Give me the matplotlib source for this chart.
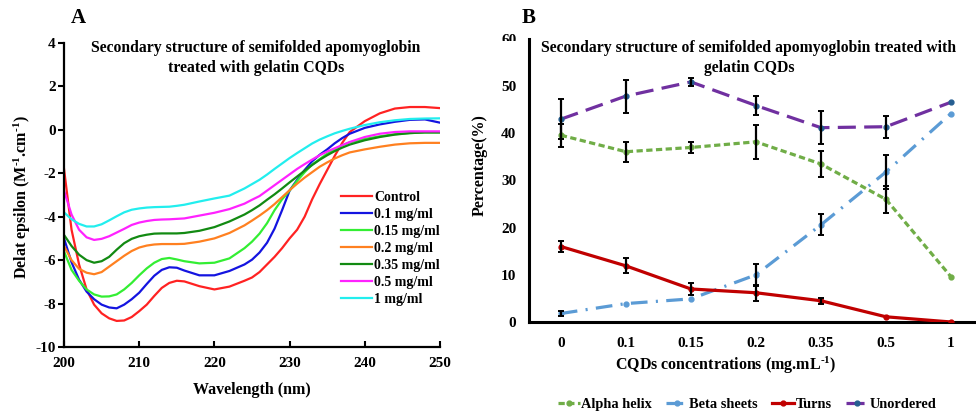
import numpy as np
import matplotlib
matplotlib.use("Agg")
import matplotlib.pyplot as plt
from matplotlib.transforms import Bbox, TransformedBbox

plt.rcParams['font.family'] = ['Liberation Serif', 'DejaVu Serif']
plt.rcParams['font.weight'] = 'bold'
plt.rcParams['axes.unicode_minus'] = False
plt.rcParams['mathtext.fontset'] = 'custom'
plt.rcParams['mathtext.rm'] = 'Liberation Serif:bold'
plt.rcParams['mathtext.default'] = 'rm'
plt.rcParams['lines.scale_dashes'] = False

# ---- panel A: CD spectra ----
wavelength = [200, 201, 202, 203, 204, 205, 206, 207, 208, 209, 210, 211, 212, 213,
              214, 215, 216, 218, 220, 222, 224, 225, 226, 227, 228, 229, 230, 231,
              232, 233, 234, 235, 236, 237, 238, 240, 242, 244, 246, 248, 250]

control = [-1.8, -4.6, -6.2, -7.35, -8.05, -8.45, -8.68, -8.8, -8.78, -8.62, -8.35, -8.05,
           -7.65, -7.28, -7.05, -6.95, -6.98, -7.2, -7.35, -7.22, -6.95, -6.8, -6.55, -6.2,
           -5.85, -5.45, -5.0, -4.6, -4.0, -3.2, -2.5, -1.85, -1.2, -0.6, -0.1, 0.4, 0.76,
           0.98, 1.05, 1.05, 1.0]
c_01 = [-5.0, -6.1, -6.9, -7.45, -7.8, -8.05, -8.18, -8.22, -8.05, -7.8, -7.5, -7.1, -6.72,
        -6.45, -6.33, -6.35, -6.48, -6.7, -6.7, -6.5, -6.2, -5.98, -5.65, -5.2, -4.55, -3.7,
        -2.8, -2.3, -1.85, -1.45, -1.15, -0.9, -0.62, -0.38, -0.18, 0.09, 0.25, 0.37, 0.46,
        0.48, 0.33]
c_015 = [-5.6, -6.45, -6.95, -7.35, -7.58, -7.68, -7.67, -7.58, -7.35, -7.05, -6.7, -6.38,
         -6.12, -5.95, -5.9, -5.97, -6.05, -6.15, -6.12, -5.92, -5.45, -5.15, -4.78, -4.3,
         -3.7, -3.2, -2.8, -2.35, -1.95, -1.6, -1.35, -1.1, -0.9, -0.72, -0.58, -0.42, -0.3,
         -0.2, -0.15, -0.12, -0.12]
c_02 = [-5.35, -6.0, -6.4, -6.58, -6.65, -6.55, -6.3, -6.05, -5.8, -5.58, -5.42, -5.33,
        -5.28, -5.26, -5.26, -5.26, -5.25, -5.15, -5.0, -4.75, -4.4, -4.18, -3.95, -3.7,
        -3.42, -3.1, -2.78, -2.48, -2.2, -1.95, -1.7, -1.5, -1.32, -1.17, -1.04, -0.9,
        -0.78, -0.68, -0.62, -0.6, -0.6]
c_035 = [-4.84, -5.35, -5.75, -6.0, -6.12, -6.05, -5.85, -5.52, -5.22, -5.02, -4.9, -4.83,
         -4.78, -4.77, -4.77, -4.77, -4.75, -4.65, -4.48, -4.22, -3.9, -3.7, -3.48, -3.22,
         -2.97, -2.7, -2.42, -2.15, -1.88, -1.62, -1.38, -1.17, -0.98, -0.82, -0.68, -0.48,
         -0.33, -0.22, -0.15, -0.12, -0.12]
c_05 = [-2.8, -3.9, -4.6, -4.95, -5.07, -5.02, -4.9, -4.73, -4.56, -4.38, -4.27, -4.2,
        -4.15, -4.13, -4.12, -4.1, -4.08, -3.95, -3.82, -3.65, -3.4, -3.22, -3.05, -2.8,
        -2.55, -2.3, -2.05, -1.8, -1.58, -1.37, -1.17, -1.0, -0.85, -0.7, -0.56, -0.33,
        -0.18, -0.1, -0.07, -0.07, -0.07]
c_1 = [-3.8, -4.12, -4.33, -4.45, -4.45, -4.35, -4.17, -3.98, -3.8, -3.68, -3.62, -3.58,
       -3.56, -3.55, -3.54, -3.5, -3.45, -3.3, -3.16, -3.03, -2.7, -2.5, -2.3, -2.06,
       -1.8, -1.55, -1.3, -1.07, -0.85, -0.63, -0.45, -0.3, -0.16, -0.05, 0.05, 0.22,
       0.35, 0.44, 0.5, 0.52, 0.53]

spectra_labels = ['Control', '0.1 mg/ml', '0.15 mg/ml', '0.2 mg/ml', '0.35 mg/ml',
                  '0.5 mg/ml', '1 mg/ml']
spectra_colors = ['#ff2222', '#1414e0', '#33ee33', '#ff8020', '#128a12', '#ff22ff', '#22eeee']

# ---- panel B: secondary structure fractions ----
conc_labels = ['0', '0.1', '0.15', '0.2', '0.35', '0.5', '1']
alpha_helix = [39.6, 36.1, 37.0, 38.2, 33.5, 26.0, 9.6]
beta_sheets = [1.8, 3.9, 4.9, 10.0, 20.6, 31.8, 44.2]
turns = [16.0, 11.9, 7.0, 6.2, 4.5, 1.1, 0.0]
unordered = [43.0, 47.9, 50.9, 45.9, 41.2, 41.4, 46.6]
alpha_err = [2.4, 2.1, 1.1, 3.6, 2.7, 2.8, 0]
beta_err = [0.5, 0, 0, 2.3, 2.2, 3.7, 0]
turns_err = [1.2, 1.6, 1.2, 1.7, 0.6, 0, 0]
unordered_err = [4.2, 3.5, 0.9, 2.1, 3.5, 2.3, 0]

fig = plt.figure(figsize=(9.76, 4.18), dpi=100)

# panel A
axA = fig.add_axes([0.0656, 0.1699, 0.3852, 0.7273])
series = [control, c_01, c_015, c_02, c_035, c_05, c_1]
for vals, lab, col in zip(series, spectra_labels, spectra_colors):
    axA.plot(wavelength, vals, color=col, lw=1.6, label=lab)
axA.set_xlim(200, 250)
axA.set_ylim(-10, 4)
axA.set_xticks(range(200, 251, 10))
axA.set_yticks(range(-10, 5, 2))
for s in ['top', 'right']:
    axA.spines[s].set_visible(False)
for s in ['left', 'bottom']:
    axA.spines[s].set_linewidth(1.6)
axA.tick_params(axis='x', direction='in', length=4, width=1.5, pad=7, labelsize=11)
axA.tick_params(axis='y', direction='out', length=4, width=1.5, pad=2, labelsize=11)
axA.legend(loc='upper left', bbox_to_anchor=(0.737, 0.512), frameon=False, fontsize=10,
           handlelength=2.2, handletextpad=0.18, labelspacing=0.28, borderpad=0,
           borderaxespad=0)
fig.text(22 / 976, 1 - 197 / 418, r'Delat epsilon (M$^{\text{-1}}$.cm$^{\text{-1}}$)',
         rotation=90, ha='center', va='center', fontsize=11.5)
fig.text(252 / 976, 1 - 390 / 418, 'Wavelength (nm)', ha='center', va='center',
         fontsize=11.5)
fig.text(256 / 976, 1 - 58 / 418,
         'Secondary structure of semifolded apomyoglobin\ntreated with gelatin CQDs',
         ha='center', va='center', fontsize=11.3, linespacing=1.3)
fig.text(78 / 976, 1 - 18 / 418, 'A', ha='center', va='center', fontsize=15)

# panel B
axB = fig.add_axes([0.542, 0.2297, 0.457, 0.677])
x = np.arange(len(conc_labels))
styles = [
    (alpha_helix, alpha_err, 'Alpha helix', '#70ad47', '#70ad47', (0, (4.5, 2.5))),
    (beta_sheets, beta_err, 'Beta sheets', '#5b9bd5', '#5b9bd5', (0, (12, 6, 1.5, 6))),
    (turns, turns_err, 'Turns', '#c00000', '#c00000', '-'),
    (unordered, unordered_err, 'Unordered', '#7030a0', '#255e91', (0, (13, 6))),
]
for vals, err, lab, col, mcol, ls in styles:
    axB.plot(x, vals, color=col, lw=2.3, ls=ls, marker='o', ms=3.5,
             mfc=mcol, mec=mcol, label=lab, zorder=3)
    err = np.array(err)
    keep = err > 0
    axB.errorbar(x[keep], np.array(vals)[keep], yerr=err[keep], fmt='none',
                 ecolor='black', elinewidth=1.6, capsize=2, capthick=1.4, zorder=4)
axB.set_xlim(-0.49, 6.37)
axB.set_ylim(0, 60)
axB.set_xticks(x)
axB.set_xticklabels(conc_labels)
axB.set_yticks(range(0, 61, 10))
for s in ['top', 'right']:
    axB.spines[s].set_visible(False)
for s in ['left', 'bottom']:
    axB.spines[s].set_linewidth(2.2)
axB.tick_params(axis='both', length=0, labelsize=11)
axB.tick_params(axis='x', pad=11)
axB.tick_params(axis='y', pad=9)

# the top "60" label sits under the title block, only its upper part shows
top_label = axB.yaxis.get_major_ticks()[-1].label1
top_label.set_clip_box(TransformedBbox(Bbox([[0.5, 1 - 40.5 / 418], [0.6, 1.0]]),
                                       fig.transFigure))
top_label.set_clip_on(True)

fig.text(480 / 976, 1 - 165 / 418, 'Percentage(%)', rotation=90, ha='center',
         va='center', fontsize=11.5)
fig.text(726 / 976, 1 - 365 / 418, r'CQDs concentrations (mg.mL$^{\text{-1}}$)',
         ha='center', va='center', fontsize=11.5)
fig.text(749 / 976, 1 - 58 / 418,
         'Secondary structure of semifolded apomyoglobin treated with\ngelatin CQDs',
         ha='center', va='center', fontsize=11.3, linespacing=1.25)
fig.text(529 / 976, 1 - 18 / 418, 'B', ha='center', va='center', fontsize=15)
fig.legend(*axB.get_legend_handles_labels(), loc='center',
           bbox_to_anchor=(747 / 976, 1 - 404 / 418), ncol=4, frameon=False,
           fontsize=10.4, handlelength=1.5, handletextpad=0.1, columnspacing=1.0)

fig.savefig('out.png', dpi=100)
